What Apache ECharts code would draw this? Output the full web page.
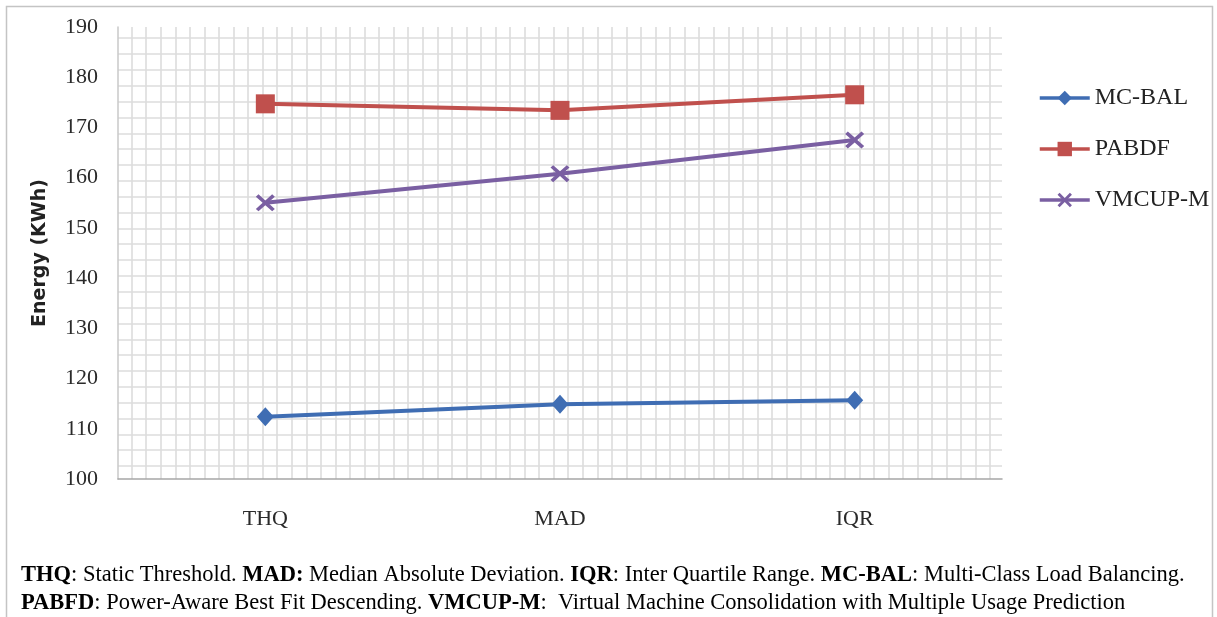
<!DOCTYPE html>
<html>
<head>
<meta charset="utf-8">
<script src="https://cdn.jsdelivr.net/npm/echarts@6/dist/echarts.min.js"></script>
<style>
html,body{margin:0;padding:0;background:#fff;}
#chart{width:1217px;height:617px;}
</style>
</head>
<body>
<div id="chart"></div>
<script>
// ---- data ----
var categories = ['THQ', 'MAD', 'IQR'];
var seriesNames = ['MC-BAL', 'PABDF', 'VMCUP-M'];
var mcBal  = [112.4, 114.9, 115.7];
var pabdf  = [174.7, 173.4, 176.5];
var vmcupM = [155.0, 160.8, 167.5];
var yTicks = { min: 100, max: 190, step: 10 };
var captionLine1 = '{b|THQ}: Static Threshold. {b|MAD:} Median Absolute Deviation. {b|IQR}: Inter Quartile Range. {b|MC-BAL}: Multi-Class Load Balancing.';
var captionLine2 = '{b|PABFD}: Power-Aware Best Fit Descending. {b|VMCUP-M}:  Virtual Machine Consolidation with Multiple Usage Prediction';

var serif = '"Liberation Serif", "Times New Roman", serif';
var xSym = 'path://M0,1.4 L1.4,0 L5,3.6 L8.6,0 L10,1.4 L6.4,5 L10,8.6 L8.6,10 L5,6.4 L1.4,10 L0,8.6 L3.6,5 Z';
var gridColor = '#dcdcdc';

var chart = echarts.init(document.getElementById('chart'), null, {renderer: 'canvas'});
var option = {
  backgroundColor: '#ffffff',
  animation: false,
  grid: { left: 118, top: 27, right: 215, bottom: 138, containLabel: false },
  legend: {
    orient: 'vertical',
    left: 1033,
    top: 81,
    itemWidth: 50,
    itemHeight: 18,
    itemGap: 27,
    lineStyle: { width: 3.5 },
    textStyle: { fontFamily: serif, fontSize: 24, color: '#222' },
    data: seriesNames
  },
  xAxis: [
    {
      type: 'category',
      data: categories,
      boundaryGap: true,
      axisLine: { show: true, onZero: false, lineStyle: { color: '#a6a6a6', width: 1.5 } },
      axisTick: { show: false },
      splitLine: { show: false },
      axisLabel: { fontFamily: serif, fontSize: 22, color: '#2a2a2a', margin: 29 }
    },
    {
      type: 'value',
      min: -0.94, max: 59.81,
      minInterval: 1, maxInterval: 1, splitNumber: 60,
      position: 'top',
      axisLine: { show: false, onZero: false }, axisTick: { show: false }, axisLabel: { show: false },
      splitLine: { show: true, showMinLine: false, showMaxLine: false, lineStyle: { color: gridColor, width: 1.6 } }
    }
  ],
  yAxis: [
    {
      type: 'value',
      min: yTicks.min, max: yTicks.max, interval: yTicks.step,
      name: 'Energy (KWh)',
      nameLocation: 'middle',
      nameGap: 68,
      nameTextStyle: { fontFamily: '"DejaVu Sans", sans-serif', fontWeight: 'bold', fontSize: 19, color: '#222' },
      axisLine: { show: true, onZero: false, lineStyle: { color: '#c8c8c8', width: 1.5 } },
      axisTick: { show: false },
      splitLine: { show: false },
      axisLabel: { fontFamily: serif, fontSize: 22, color: '#2a2a2a', margin: 20 }
    },
    {
      type: 'value',
      min: -0.82, max: 27.71,
      minInterval: 1, maxInterval: 1, splitNumber: 28,
      position: 'right',
      axisLine: { show: false, onZero: false }, axisTick: { show: false }, axisLabel: { show: false },
      splitLine: { show: true, showMinLine: false, showMaxLine: false, lineStyle: { color: gridColor, width: 1.6 } }
    }
  ],
  series: [
    {
      name: seriesNames[0], type: 'line', data: mcBal,
      xAxisIndex: 0, yAxisIndex: 0,
      symbol: 'diamond', symbolSize: [17, 19],
      itemStyle: { color: '#3F6DB3' },
      lineStyle: { color: '#3F6DB3', width: 4 }
    },
    {
      name: seriesNames[1], type: 'line', data: pabdf,
      xAxisIndex: 0, yAxisIndex: 0,
      symbol: 'rect', symbolSize: 19,
      itemStyle: { color: '#C0504D' },
      lineStyle: { color: '#C0504D', width: 4 }
    },
    {
      name: seriesNames[2], type: 'line', data: vmcupM,
      xAxisIndex: 0, yAxisIndex: 0,
      symbol: xSym, symbolSize: [19, 17],
      itemStyle: { color: '#7A5FA2' },
      lineStyle: { color: '#7A5FA2', width: 4 }
    }
  ],
  graphic: [
    {
      type: 'rect', silent: true, z: -1,
      shape: { x: 6.5, y: 6.5, width: 1206, height: 640 },
      style: { fill: 'none', stroke: '#c4c4c4', lineWidth: 1.5 }
    },
    {
      type: 'text', left: 21, top: 564,
      style: {
        text: captionLine1,
        fontFamily: serif, fontSize: 22.5, fill: '#000',
        rich: { b: { fontFamily: serif, fontSize: 22.5, fontWeight: 'bold', fill: '#000' } }
      }
    },
    {
      type: 'text', left: 21, top: 592,
      style: {
        text: captionLine2,
        fontFamily: serif, fontSize: 22.5, fill: '#000',
        rich: { b: { fontFamily: serif, fontSize: 22.5, fontWeight: 'bold', fill: '#000' } }
      }
    }
  ]
};
chart.setOption(option);
</script>
</body>
</html>
